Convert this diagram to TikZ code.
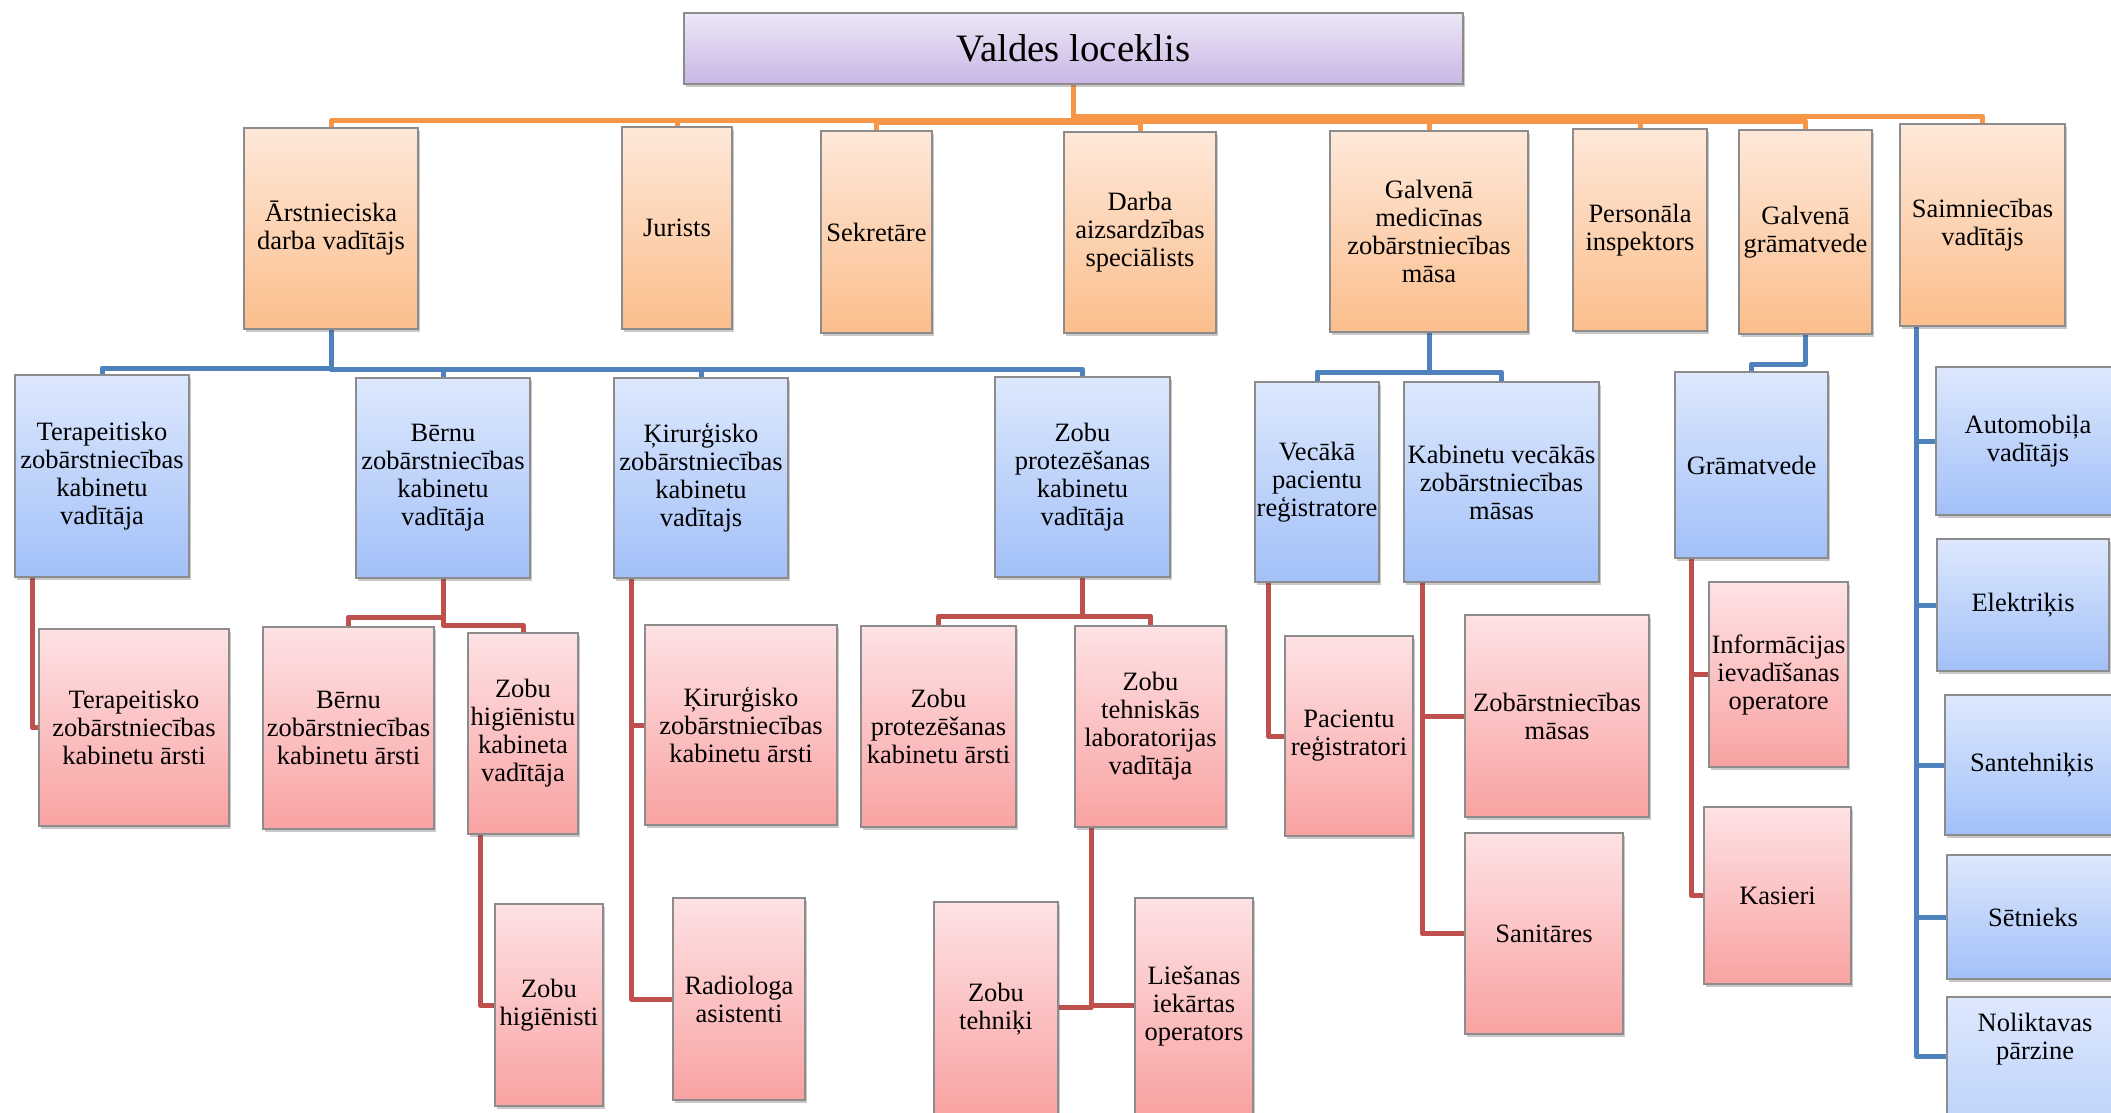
\documentclass[tikz,border=0pt]{standalone}
\usepackage{fontspec}
\setmainfont{Liberation Serif}
\usetikzlibrary{shadows,backgrounds}
\definecolor{rootT}{HTML}{EDE7F6}
\definecolor{rootB}{HTML}{C9B6E5}
\definecolor{orT}{HTML}{FEE8D9}
\definecolor{orB}{HTML}{FBBE8C}
\definecolor{blT}{HTML}{DDE8FD}
\definecolor{blB}{HTML}{A2C0F8}
\definecolor{pkT}{HTML}{FEE2E4}
\definecolor{pkB}{HTML}{F9A2A2}
\definecolor{ocol}{HTML}{F79646}
\definecolor{bcol}{HTML}{4F81BD}
\definecolor{rcol}{HTML}{C0504D}
\tikzset{
  basebox/.style={rectangle, draw=black!45, line width=1.4pt, inner sep=0pt, align=center,
    font=\fontsize{26.5}{28}\selectfont,
    drop shadow={shadow xshift=2pt, shadow yshift=-3pt, opacity=0.3, fill=black!70}},
  rootbox/.style={basebox, top color=rootT, bottom color=rootB, font=\fontsize{38.8}{42}\selectfont},
  obox/.style={basebox, top color=orT, bottom color=orB},
  bbox/.style={basebox, top color=blT, bottom color=blB},
  pbox/.style={basebox, top color=pkT, bottom color=pkB},
  wh/.style 2 args={minimum width=#1pt, minimum height=#2pt},
  oline/.style={draw=ocol, line width=5pt, line join=round},
  bline/.style={draw=bcol, line width=5pt, line join=round},
  rline/.style={draw=rcol, line width=5pt, line join=round},
}
\begin{document}
\begin{tikzpicture}[x=1pt,y=-1pt]
\clip (0,0) rectangle (2111,1112);
% root
\node[rootbox, wh={779}{71}] (root) at (1073.5,48.5) {Valdes loceklis};
% row 1
\node[obox, wh={174}{201}] (arst) at (331,228.5) {Ārstnieciska\\darba vadītājs};
\node[obox, wh={110}{202}] (jur) at (677,228) {Jurists};
\node[obox, wh={111}{202}] (sekr) at (876.5,232) {Sekretāre};
\node[obox, wh={152}{201}] (darba) at (1140,232.5) {Darba\\aizsardzības\\speciālists};
\node[obox, wh={198}{201}] (galvmed) at (1429,231.5) {Galvenā\\medicīnas\\zobārstniecības\\māsa};
\node[obox, wh={134}{202}] (pers) at (1640,230) {Personāla\\inspektors};
\node[obox, wh={133}{204}] (galvgram) at (1805.5,232) {Galvenā\\grāmatvede};
\node[obox, wh={165}{202}] (saimn) at (1982.5,225) {Saimniecības\\vadītājs};
% row 2 blue
\node[bbox, wh={174}{202}] (terap) at (102,476) {Terapeitisko\\zobārstniecības\\kabinetu\\vadītāja};
\node[bbox, wh={174}{200}] (bernu) at (443,478) {Bērnu\\zobārstniecības\\kabinetu\\vadītāja};
\node[bbox, wh={174}{200}] (kir) at (701,478) {Ķirurģisko\\zobārstniecības\\kabinetu\\vadītajs};
\node[bbox, wh={175}{200}] (zprot) at (1082.5,477) {Zobu\\protezēšanas\\kabinetu\\vadītāja};
\node[bbox, wh={124}{200}] (vec) at (1317,482) {Vecākā\\pacientu\\reģistratore};
\node[bbox, wh={195}{200}] (kabvec) at (1501.5,482) {Kabinetu vecākās\\zobārstniecības\\māsas};
\node[bbox, wh={153}{186}] (gram) at (1751.5,465) {Grāmatvede};
\node[bbox, wh={184}{148}] (auto) at (2028,441) {Automobiļa\\vadītājs};
\node[bbox, wh={172}{132}] (elek) at (2023,605) {Elektriķis};
\node[bbox, wh={174}{140}] (sant) at (2032,765) {Santehniķis};
\node[bbox, wh={172}{124}] (set) at (2033,917) {Sētnieks};
\node[bbox, wh={176}{240}] (nol) at (2035,1117) {\begin{minipage}[c][240pt][t]{176pt}\centering\rule{0pt}{34pt}Noliktavas\\pārzine\end{minipage}};
% pink
\node[pbox, wh={190}{197}] (terapars) at (134,727.5) {Terapeitisko\\zobārstniecības\\kabinetu ārsti};
\node[pbox, wh={171}{202}] (bernars) at (348.5,728) {Bērnu\\zobārstniecības\\kabinetu ārsti};
\node[pbox, wh={110}{201}] (zhigkab) at (523,733.5) {Zobu\\higiēnistu\\kabineta\\vadītāja};
\node[pbox, wh={108}{202}] (zhig) at (549,1005) {Zobu\\higiēnisti};
\node[pbox, wh={192}{200}] (kirars) at (741,725) {Ķirurģisko\\zobārstniecības\\kabinetu ārsti};
\node[pbox, wh={132}{202}] (radio) at (739,999) {Radiologa\\asistenti};
\node[pbox, wh={155}{201}] (zprotars) at (938.5,726.5) {Zobu\\protezēšanas\\kabinetu ārsti};
\node[pbox, wh={151}{201}] (ztehlab) at (1150.5,726.5) {Zobu\\tehniskās\\laboratorijas\\vadītāja};
\node[pbox, wh={124}{214}] (ztehn) at (996,1009) {Zobu\\tehniķi};
\node[pbox, wh={118}{216}] (lies) at (1194,1006) {Liešanas\\iekārtas\\operators};
\node[pbox, wh={128}{200}] (pacreg) at (1349,736) {Pacientu\\reģistratori};
\node[pbox, wh={184}{202}] (zmasas) at (1557,716) {Zobārstniecības\\māsas};
\node[pbox, wh={158}{201}] (sanit) at (1544,933.5) {Sanitāres};
\node[pbox, wh={139}{185}] (inform) at (1778.5,674.5) {Informācijas\\ievadīšanas\\operatore};
\node[pbox, wh={147}{177}] (kasieri) at (1777.5,895.5) {Kasieri};
% connectors
\begin{scope}[on background layer]
\draw[oline] (root.south) |- (arst.north |- 0,120.5) -- (arst.north);
\draw[oline] (root.south) |- (jur.north |- 0,120.5) -- (jur.north);
\draw[oline] (root.south) |- (sekr.north |- 0,122) -- (sekr.north);
\draw[oline] (root.south) |- (darba.north |- 0,122) -- (darba.north);
\draw[oline] (root.south) |- (galvmed.north |- 0,119) -- (galvmed.north);
\draw[oline] (root.south) |- (pers.north |- 0,119) -- (pers.north);
\draw[oline] (root.south) |- (galvgram.north |- 0,121) -- (galvgram.north);
\draw[oline] (root.south) |- (saimn.north |- 0,116.5) -- (saimn.north);
\draw[bline] (arst.south) |- (terap.north |- 0,368) -- (terap.north);
\draw[bline] (arst.south) |- (bernu.north |- 0,369) -- (bernu.north);
\draw[bline] (arst.south) |- (kir.north |- 0,369) -- (kir.north);
\draw[bline] (arst.south) |- (zprot.north |- 0,369.5) -- (zprot.north);
\draw[bline] (galvmed.south) |- (vec.north |- 0,372) -- (vec.north);
\draw[bline] (galvmed.south) |- (kabvec.north |- 0,372) -- (kabvec.north);
\draw[bline] (galvgram.south) |- (gram.north |- 0,364) -- (gram.north);
\draw[bline] (saimn.south -| 1916,0) |- (auto.west);
\draw[bline] (saimn.south -| 1916,0) |- (elek.west);
\draw[bline] (saimn.south -| 1916,0) |- (sant.west);
\draw[bline] (saimn.south -| 1916,0) |- (set.west);
\draw[bline] (saimn.south -| 1916,0) |- ([yshift=61pt]nol.west);
\draw[rline] (terap.south -| 32,0) |- (terapars.west);
\draw[rline] (bernu.south) |- (bernars.north |- 0,617) -- (bernars.north);
\draw[rline] (bernu.south) |- (zhigkab.north |- 0,625) -- (zhigkab.north);
\draw[rline] (zhigkab.south -| 480,0) |- (zhig.west);
\draw[rline] (kir.south -| 631,0) |- (kirars.west);
\draw[rline] (kir.south -| 631,0) |- (radio.west);
\draw[rline] (zprot.south) |- (zprotars.north |- 0,616) -- (zprotars.north);
\draw[rline] (zprot.south) |- (ztehlab.north |- 0,616) -- (ztehlab.north);
\draw[rline] (ztehlab.south -| 1091,0) |- (ztehn.east |- 0,1007);
\draw[rline] (ztehlab.south -| 1091,0) |- (lies.west |- 0,1005);
\draw[rline] (vec.south -| 1268,0) |- (pacreg.west);
\draw[rline] (kabvec.south -| 1422,0) |- (zmasas.west);
\draw[rline] (kabvec.south -| 1422,0) |- (sanit.west);
\draw[rline] (gram.south -| 1691,0) |- (inform.west);
\draw[rline] (gram.south -| 1691,0) |- (kasieri.west);
\end{scope}
\end{tikzpicture}
\end{document}
